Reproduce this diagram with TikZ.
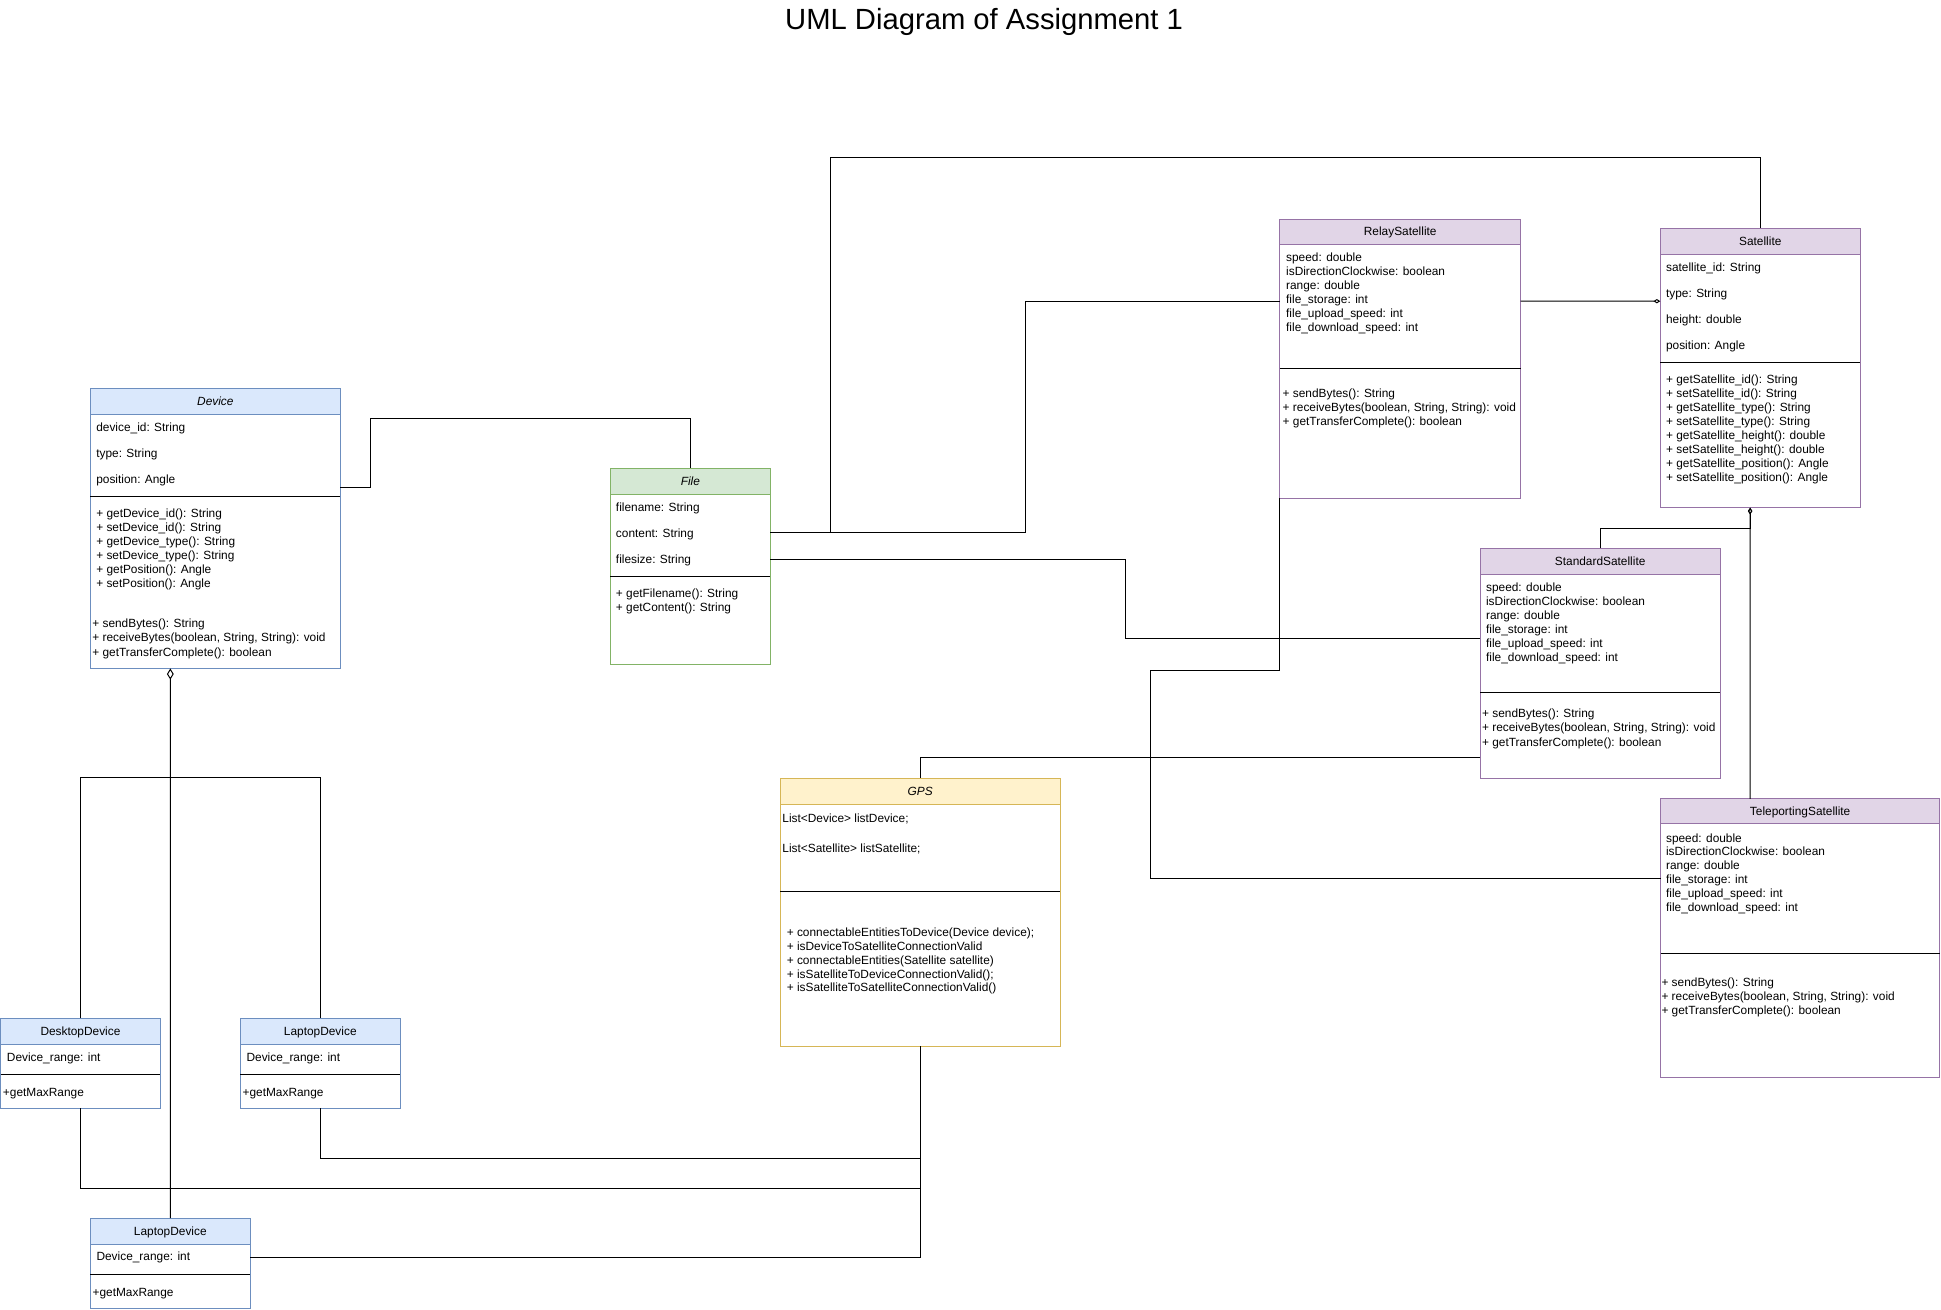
\documentclass[tikz,border=0pt]{standalone}
\usepackage{fontspec}
\setmainfont{Liberation Sans}
\usetikzlibrary{calc,arrows.meta}
\definecolor{blueF}{HTML}{DAE8FC}\definecolor{blueS}{HTML}{6C8EBF}
\definecolor{greenF}{HTML}{D5E8D4}\definecolor{greenS}{HTML}{82B366}
\definecolor{yellowF}{HTML}{FFF2CC}\definecolor{yellowS}{HTML}{D6B656}
\definecolor{purpleF}{HTML}{E1D5E7}\definecolor{purpleS}{HTML}{9673A6}
\tikzset{
  cls/.style={fill=white, anchor=north west, inner sep=0pt, outer sep=0pt, line width=0.8pt},
  hdr/.style={anchor=base, inner sep=0pt, font=\fontsize{9.6}{11.3}\selectfont},
  txt/.style={anchor=base west, inner sep=0pt, font=\fontsize{9.6}{11.3}\selectfont},
  conn/.style={draw=black, line width=0.8pt},
  aggbig/.style={-{Diamond[open,length=9pt,width=5.5pt]}},
  aggsmall/.style={-{Diamond[open,length=5.5pt,width=3.5pt]}}
}
% name, x, y, w, h, header height, separator offset, colour prefix, title
\newcommand{\umlclass}[9]{%
  \node[cls, draw=#8S, minimum width=#4pt, minimum height=#5pt] (#1) at (#2,#3) {};
  \draw[draw=#8S, fill=#8F, line width=0.8pt] (#1.north west) rectangle ($(#1.north east)+(0,#6)$);
  \draw[line width=0.8pt] ($(#1.north west)+(0,#7)$) -- ($(#1.north east)+(0,#7)$);
  \node[hdr] (#1-t) at ($(#1.north)+(0,#6/2+3.4)$) {#9};
}
% prefix, x, first baseline, step, list
\newcommand{\umlrows}[5]{%
  \foreach \t [count=\i] in {#5} {\node[txt] (#1-\i) at (#2,{#3+(\i-1)*#4}) {\t};}
}
\begin{document}
\begin{tikzpicture}[x=1pt,y=-1pt]
\useasboundingbox (0,0) rectangle (1568,1058);

\node[anchor=base, inner sep=0pt, font=\fontsize{23.6}{28}\selectfont] (title) at (795,23.5) {UML Diagram of Assignment 1};

% ---------- classes ----------
\umlclass{dev}{73}{314}{202}{226}{21}{87}{blue}{\textit{Device}}
\umlrows{deva}{77.6}{348.5}{21}{device\_id: String, type: String, position: Angle}
\umlrows{devm}{77.6}{417.9}{11.32}{+ getDevice\_id(): String, + setDevice\_id(): String, + getDevice\_type(): String, + setDevice\_type(): String, + getPosition(): Angle, + setPosition(): Angle}
\umlrows{devn}{74.4}{506.8}{11.7}{+ sendBytes(): String, {+ receiveBytes(boolean, String, String): void}, + getTransferComplete(): boolean}

\umlclass{file}{493}{378.3}{129.4}{158.3}{21}{87.2}{green}{\textit{File}}
\umlrows{filea}{497.4}{413.1}{21}{filename: String, content: String, filesize: String}
\umlrows{filem}{497.4}{482.6}{11.3}{+ getFilename(): String, + getContent(): String}

\umlclass{rel}{1034}{177}{194.3}{225.5}{20.4}{120.5}{purple}{RelaySatellite}
\umlrows{rela}{1038.8}{211.1}{11.32}{speed: double, isDirectionClockwise: boolean, range: double, file\_storage: int, file\_upload\_speed: int, file\_download\_speed: int}
\umlrows{relm}{1036}{321}{11.55}{+ sendBytes(): String, {+ receiveBytes(boolean, String, String): void}, + getTransferComplete(): boolean}

\umlclass{sat}{1341.2}{184.4}{161.6}{225.7}{21}{108.3}{purple}{Satellite}
\umlrows{sata}{1345.7}{219.2}{21}{satellite\_id: String, type: String, height: double, position: Angle}
\umlrows{satm}{1345.7}{309.7}{11.31}{+ getSatellite\_id(): String, + setSatellite\_id(): String, + getSatellite\_type(): String, + setSatellite\_type(): String, + getSatellite\_height(): double, + setSatellite\_height(): double, + getSatellite\_position(): Angle, + setSatellite\_position(): Angle}

\umlclass{std}{1195.7}{442.9}{193.9}{185.8}{21}{116.9}{purple}{StandardSatellite}
\umlrows{stda}{1200.3}{477.7}{11.32}{speed: double, isDirectionClockwise: boolean, range: double, file\_storage: int, file\_upload\_speed: int, file\_download\_speed: int}
\umlrows{stdm}{1197.1}{579.5}{11.7}{+ sendBytes(): String, {+ receiveBytes(boolean, String, String): void}, + getTransferComplete(): boolean}

\umlclass{tel}{1341.4}{645.4}{225.6}{225.3}{19.9}{124.7}{purple}{TeleportingSatellite}
\umlrows{tela}{1345.7}{680.2}{11.25}{speed: double, isDirectionClockwise: boolean, range: double, file\_storage: int, file\_upload\_speed: int, file\_download\_speed: int}
\umlrows{telm}{1342}{797}{11.45}{+ sendBytes(): String, {+ receiveBytes(boolean, String, String): void}, + getTransferComplete(): boolean}

\umlclass{gps}{630.3}{628.7}{226.2}{216.5}{21}{91.3}{yellow}{\textit{GPS}}
\umlrows{gpsa}{631.9}{664.8}{23.7}{List<Device> listDevice;, List<Satellite> listSatellite;}
\umlrows{gpsm}{635.4}{756.4}{11.23}{+ connectableEntitiesToDevice(Device device);, + isDeviceToSatelliteConnectionValid, + connectableEntities(Satellite satellite), + isSatelliteToDeviceConnectionValid();, + isSatelliteToSatelliteConnectionValid()}

\umlclass{desk}{0.5}{822.6}{129}{72.7}{21}{45.2}{blue}{DesktopDevice}
\node[txt] (desk-a) at (5.4,857.3) {Device\_range: int};
\node[txt] (desk-m) at (2.2,885.6) {+getMaxRange};

\umlclass{lapa}{194.1}{822.6}{129.3}{72.7}{21}{45.2}{blue}{LaptopDevice}
\node[txt] (lapa-a) at (199,857.3) {Device\_range: int};
\node[txt] (lapa-m) at (195.8,885.6) {+getMaxRange};

\umlclass{lapb}{73}{984.1}{129.2}{72.7}{21}{45.2}{blue}{LaptopDevice}
\node[txt] (lapb-a) at (77.8,1018.6) {Device\_range: int};
\node[txt] (lapb-m) at (74.6,1047.2) {+getMaxRange};

% ---------- connectors ----------
\draw[conn] ($(dev.north east)+(0,80.2)$) -| (299.4,337.9) -| (file.north);
\draw[conn] ($(file.north east)+(0,52.1)$) -| (828.3,243.3) -- ($(rel.north west)+(0,66.3)$);
\draw[conn] ($(file.north east)+(0,52.1)$) -| (670.7,127.5) -| (sat.north);
\draw[conn] ($(file.north east)+(0,73.5)$) -| (909,515.5) -- ($(std.north west)+(0,72.6)$);
\draw[conn, aggsmall] ($(rel.north east)+(0,66.3)$) -- ($(sat.north west)+(0,58.9)$);
\draw[conn] (rel.south west) |- (929.2,542) |- ($(tel.north west)+(0,64.1)$);
\draw[conn, aggsmall] (std.north) |- (1413.8,426.8) -- ($(sat.south west)+(72.6,0)$);
\draw[conn, aggsmall] ($(tel.north west)+(72.4,0)$) -- ($(sat.south west)+(72.6,0)$);
\draw[conn] ($(std.north west)+(0,169.4)$) -| (gps.north);
\draw[conn] (gps.south) |- ($(lapb.north east)+(0,31.5)$);
\draw[conn] (lapa.south) |- ($(gps.south)+(0,90.5)$);
\draw[conn] (desk.south) |- ($(gps.south)+(0,114.7)$);
\draw[conn] (desk.north) -- ++(0,-194.6) -| (lapa.north);
\draw[conn, aggbig] (lapb.north) -- ($(dev.south west)+(64.6,0)$);
\end{tikzpicture}
\end{document}
